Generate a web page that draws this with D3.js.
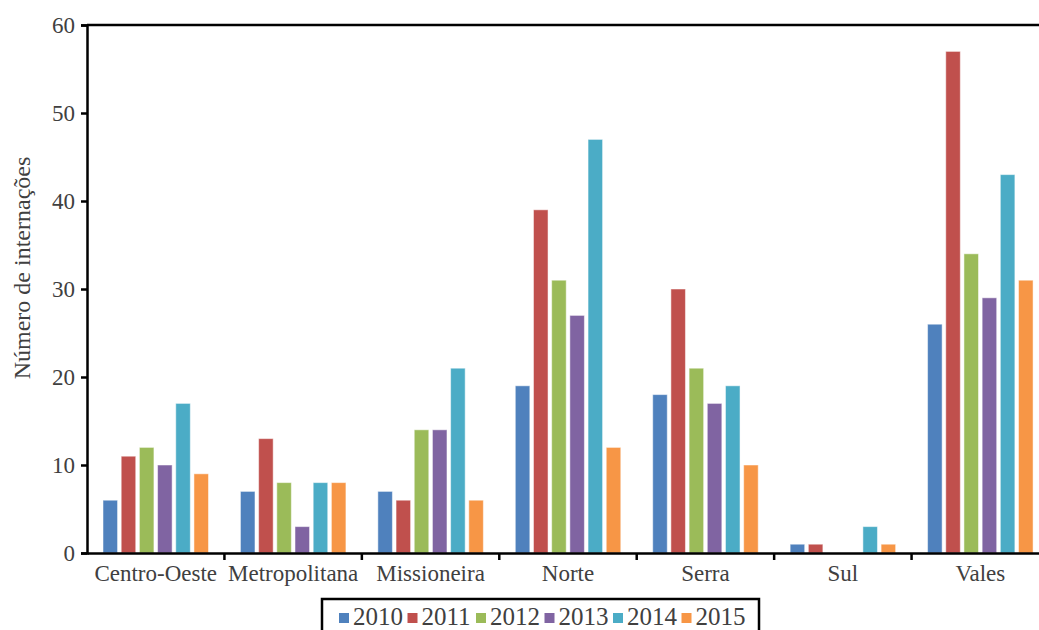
<html>
<head>
  <script src="https://d3js.org/d3.v7.min.js"></script>
  <style>
    body { margin: 0; padding: 0; background: white; overflow: hidden; }
    svg { display: block; }
  </style>
</head>
<body>
  <svg width="1039" height="630"></svg>
  <script>
    const regions = ["Centro-Oeste", "Metropolitana", "Missioneira", "Norte", "Serra", "Sul", "Vales"];
    const years = ["2010", "2011", "2012", "2013", "2014", "2015"];
    const v2010 = [6, 7, 7, 19, 18, 1, 26];
    const v2011 = [11, 13, 6, 39, 30, 1, 57];
    const v2012 = [12, 8, 14, 31, 21, 0, 34];
    const v2013 = [10, 3, 14, 27, 17, 0, 29];
    const v2014 = [17, 8, 21, 47, 19, 3, 43];
    const v2015 = [9, 8, 6, 12, 10, 1, 31];
    const yTicks = [0, 10, 20, 30, 40, 50, 60];
    const colors = ["#4F81BD", "#C0504D", "#9BBB59", "#8064A2", "#4BACC6", "#F79646"];

    const FONT = "'Liberation Serif', 'Times New Roman', Times, serif";

    const series = [v2010, v2011, v2012, v2013, v2014, v2015];
    const data = regions.map((r, i) => ({ region: r, values: years.map((y, j) => ({ year: y, value: series[j][i] })) }));

    const svg = d3.select("svg"),
          margin = { top: 25, left: 87 },
          width = 962,
          height = 528,
          g = svg.append("g").attr("transform", "translate(" + margin.left + "," + margin.top + ")");

    const x0 = d3.scaleBand().domain(regions).range([0, width]).paddingInner(0).paddingOuter(0);
    const x1 = d3.scaleBand().domain(years).range([16, 121.5]).paddingInner(0.2).paddingOuter(0);
    const y = d3.scaleLinear().domain([0, 60]).range([height, 0]);
    const color = d3.scaleOrdinal().domain(years).range(colors);

    // top frame line
    g.append("line")
      .attr("x1", 0).attr("x2", 1039 - margin.left)
      .attr("y1", 0).attr("y2", 0)
      .attr("stroke", "black").attr("stroke-width", 2.5);

    // bars
    g.selectAll(".grp")
      .data(data)
      .enter().append("g")
      .attr("transform", d => "translate(" + x0(d.region) + ",0)")
      .selectAll("rect")
      .data(d => d.values.filter(v => v.value > 0))
      .enter().append("rect")
      .attr("x", d => x1(d.year))
      .attr("y", d => y(d.value))
      .attr("width", x1.bandwidth())
      .attr("height", d => height - y(d.value))
      .attr("fill", d => color(d.year))
      .attr("stroke", "white")
      .attr("stroke-opacity", 0.5)
      .attr("stroke-width", 1);

    // y axis
    const yAxis = g.append("g")
      .call(d3.axisLeft(y).tickValues(yTicks).tickSize(6).tickPadding(6));
    yAxis.select(".domain").attr("stroke", "black").attr("stroke-width", 2.5);
    yAxis.selectAll(".tick line").attr("stroke", "black").attr("stroke-width", 2.5);
    yAxis.selectAll(".tick text").style("font-size", "23px");

    // x axis
    const xAxis = g.append("g")
      .attr("transform", "translate(0," + height + ")")
      .call(d3.axisBottom(x0).tickSize(0).tickPadding(12));
    xAxis.select(".domain").attr("stroke", "black").attr("stroke-width", 2.5);
    xAxis.selectAll(".tick text").style("font-size", "23px");
    xAxis.selectAll(".sep")
      .data(regions.slice(1))
      .enter().append("line")
      .attr("x1", d => x0(d)).attr("x2", d => x0(d))
      .attr("y1", 0).attr("y2", 7)
      .attr("stroke", "black").attr("stroke-width", 2.5);

    // y label
    svg.append("text")
      .attr("transform", "translate(30,268) rotate(-90)")
      .attr("text-anchor", "middle")
      .style("font-size", "24px")
      .text("Número de internações");

    // legend
    const legend = svg.append("g").attr("transform", "translate(322,599)");
    legend.append("rect")
      .attr("width", 437).attr("height", 40)
      .attr("fill", "white").attr("stroke", "black").attr("stroke-width", 2.5);
    const item = legend.selectAll(".item")
      .data(years)
      .enter().append("g")
      .attr("transform", (d, i) => "translate(" + (17 + i * 68.5) + ",0)");
    item.append("rect")
      .attr("y", 14).attr("width", 10).attr("height", 10)
      .attr("fill", d => color(d));
    item.append("text")
      .attr("x", 14).attr("y", 26)
      .style("font-size", "25px")
      .text(d => d);

    svg.selectAll("text")
      .style("font-family", FONT)
      .attr("fill", "#404040");
  </script>
</body>
</html>
